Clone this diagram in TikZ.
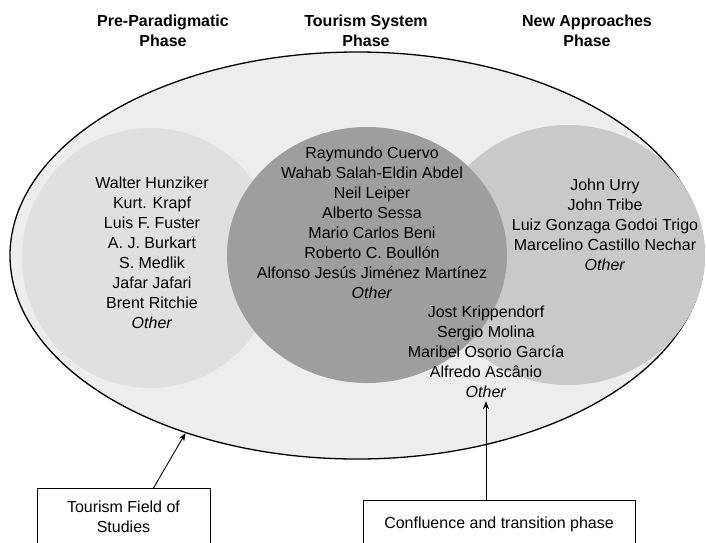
\documentclass[tikz,border=0pt]{standalone}
\usepackage{fontspec}
\setmainfont{Liberation Sans}
\usetikzlibrary{shapes.geometric,arrows.meta}

\begin{document}
\begin{tikzpicture}[x=1pt,y=-1pt,
  every node/.style={font=\fontsize{16}{20}\selectfont,align=center,inner sep=0pt},
  phase/.style={font=\fontsize{16}{20}\selectfont\bfseries,anchor=north},
  names/.style={anchor=north},
  zone/.style={ellipse,draw=none,inner sep=0pt},
  labelbox/.style={draw,line width=1pt,anchor=north,inner xsep=0pt},
  pointer/.style={-{Stealth[length=8pt,width=6pt]},line width=0.9pt}]
  \useasboundingbox (0,0) rectangle (706,542);
  \clip (0,0) rectangle (706,542);
  % the field and its three phases
  \node[zone,draw,line width=1.3pt,fill=black!7,minimum width=694pt,minimum height=407pt] (field) at (357,255.5) {};
  \node[zone,fill=black!12,minimum width=256pt,minimum height=260pt] (pre) at (150,258) {};
  \node[zone,fill=black!21,minimum width=274pt,minimum height=260pt] (new) at (568,255) {};
  \node[zone,fill=black!38,minimum width=280pt,minimum height=256pt] (sys) at (367,255) {};
  % headings
  \node[phase] (preh) at (163,15) {Pre-Paradigmatic\\Phase};
  \node[phase] (sysh) at (366,15) {Tourism System\\Phase};
  \node[phase] (newh) at (587,15) {New Approaches\\Phase};
  % authors
  \node[names] (prelist) at (152,177) {Walter Hunziker\\Kurt. Krapf\\Luis F. Fuster\\A. J. Burkart\\S. Medlik\\Jafar Jafari\\Brent Ritchie\\\textit{Other}};
  \node[names] (syslist) at (372,147) {Raymundo Cuervo\\Wahab Salah-Eldin Abdel\\Neil Leiper\\Alberto Sessa\\Mario Carlos Beni\\Roberto C. Boullón\\Alfonso Jesús Jiménez Martínez\\\textit{Other}};
  \node[names] (newlist) at (605,179) {John Urry\\John Tribe\\Luiz Gonzaga Godoi Trigo\\Marcelino Castillo Nechar\\\textit{Other}};
  \node[names] (overlap) at (486,306) {Jost Krippendorf\\Sergio Molina\\Maribel Osorio García\\Alfredo Ascânio\\\textit{Other}};
  % boxes below
  \node[labelbox,minimum width=173pt,inner ysep=12pt] (studies) at (123.5,488) {Tourism Field of\\Studies\\[30pt]};
  \node[labelbox,minimum width=272pt,inner ysep=16pt] (confluence) at (499,500) {Confluence and transition phase\\[30pt]};
  \draw[pointer] ([xshift=30pt]studies.north) -- (field.226);
  \draw[pointer] (confluence.north -| overlap.south) -- ([yshift=-3pt]overlap.south);
\end{tikzpicture}
\end{document}
